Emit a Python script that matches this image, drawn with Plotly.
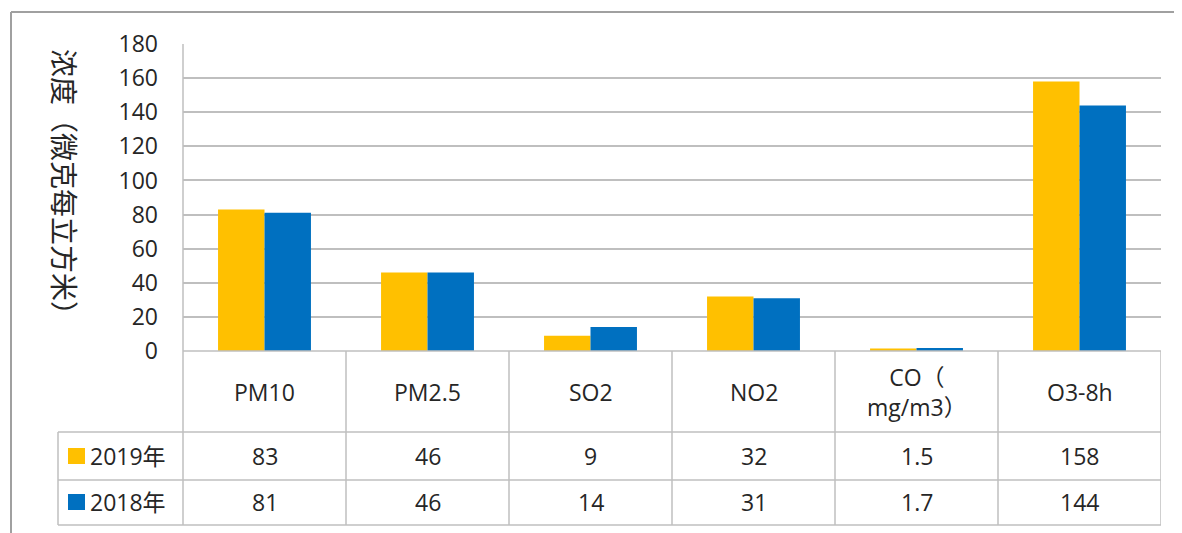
import plotly.graph_objects as go

categories = ["PM10", "PM2.5", "SO2", "NO2", "CO（<br>mg/m3）", "O3-8h"]
values_2019 = [83, 46, 9, 32, 1.5, 158]
values_2018 = [81, 46, 14, 31, 1.7, 144]
value_labels_2019 = ["83", "46", "9", "32", "1.5", "158"]
value_labels_2018 = ["81", "46", "14", "31", "1.7", "144"]
series_names = ["2019年", "2018年"]
series_colors = ["#FFC000", "#0070C0"]
y_title = "浓度（微克每立方米）"

OFF = 8  # page body margin
W, H = 1182, 533
L, R, T, B = 183 - OFF, 1161 - OFF, 44 - OFF, 351 - OFF
pw, ph = R - L, B - T

def px(x):
    return (x - OFF - L) / pw

def py(y):
    return (B - (y - OFF)) / ph

FONT = "Open Sans, Noto Sans CJK SC, sans-serif"
TXT = "#262626"
GRID = "#BFBFBF"
FS = 23

xs = list(range(len(categories)))
fig = go.Figure()
fig.add_trace(go.Bar(x=xs, y=values_2019, name=series_names[0],
                     marker=dict(color=series_colors[0], line=dict(width=0))))
fig.add_trace(go.Bar(x=xs, y=values_2018, name=series_names[1],
                     marker=dict(color=series_colors[1], line=dict(width=0))))

shapes = []
def line(x0, y0, x1, y1, xref="paper", color=GRID, width=1.5):
    shapes.append(dict(type="line", xref=xref, yref="paper", x0=x0, y0=y0, x1=x1, y1=y1,
                       line=dict(color=color, width=width)))

# outer border
line(px(11), py(12), px(1200), py(12), color="#A0A0A0", width=2)
line(px(11), py(12), px(11), py(560), color="#A0A0A0", width=2)

# table horizontal lines
line(0, 0, 1, 0)
for yy in (432, 480, 525):
    line(px(58), py(yy), 1, py(yy))
# verticals
line(0, 1, 0, py(525))
line(px(58), py(432), px(58), py(525))
for i in range(1, len(categories) + 1):
    line(i - 0.5, 0, i - 0.5, py(525), xref="x")

annotations = []
for i, c in enumerate(categories):
    annotations.append(dict(x=i, y=py(392), xref="x", yref="paper", text=c, showarrow=False,
                            font=dict(size=FS, family=FONT, color=TXT), yanchor="middle"))
    annotations.append(dict(x=i, y=py(456), xref="x", yref="paper", text=value_labels_2019[i],
                            showarrow=False, font=dict(size=FS, family=FONT, color=TXT), yanchor="middle"))
    annotations.append(dict(x=i, y=py(502), xref="x", yref="paper", text=value_labels_2018[i],
                            showarrow=False, font=dict(size=FS, family=FONT, color=TXT), yanchor="middle"))

for name, color, yc in zip(series_names, series_colors, (456, 502)):
    shapes.append(dict(type="rect", xref="paper", yref="paper", x0=px(68), x1=px(85),
                       y0=py(yc - 8), y1=py(yc + 8), fillcolor=color, line=dict(width=0)))
    annotations.append(dict(x=px(88), y=py(yc), xref="paper", yref="paper", text=name,
                            showarrow=False, xanchor="left", yanchor="middle",
                            font=dict(size=FS, family=FONT, color=TXT)))

annotations.append(dict(x=px(64), y=py(189), xref="paper", yref="paper", text=y_title,
                        textangle=90, showarrow=False, xanchor="center", yanchor="middle",
                        font=dict(size=28, family=FONT, color=TXT)))

fig.update_layout(
    width=W, height=H,
    margin=dict(l=L, r=W - R, t=T, b=H - B),
    plot_bgcolor="white", paper_bgcolor="white",
    barmode="group", bargap=0.43, bargroupgap=0,
    showlegend=False,
    shapes=shapes, annotations=annotations,
    xaxis=dict(range=[-0.5, 5.5], showticklabels=False, showgrid=False, zeroline=False,
               showline=False, fixedrange=True),
    yaxis=dict(range=[0, 180], dtick=20, showgrid=True, gridcolor=GRID, gridwidth=1.5,
               zeroline=False, showline=False, ticklabelstandoff=24,
               tickfont=dict(size=FS, family=FONT, color=TXT)),
)

fig.write_html("out.html")
